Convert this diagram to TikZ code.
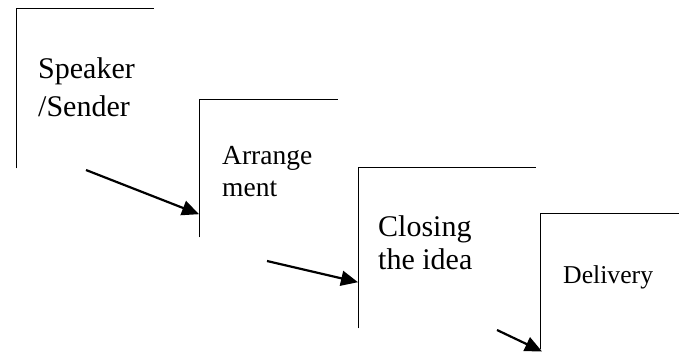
\documentclass[tikz,border=0pt]{standalone}
\usepackage{fontspec}
\setmainfont{Liberation Serif}
\usetikzlibrary{arrows.meta, positioning}

\begin{document}
\begin{tikzpicture}[x=1pt,y=-1pt]
\tikzstyle{every node}+=[inner sep=0pt]
\tikzstyle{stage}=[anchor=north west, minimum width=#1]
\tikzstyle{edge}=[black, line width=0.8pt]
\tikzstyle{flow}=[black, line width=2.2pt, -{Triangle[length=17pt,width=15pt]}]
\useasboundingbox (0,0) rectangle (686,354);
% open boxes
\node [stage=138pt, minimum height=160pt] (spk) at (16,8) {};
\node [stage=139pt, minimum height=138pt] (arr) at (199,99) {};
\node [stage=178pt, minimum height=161pt] (cls) at (358,167) {};
\node [stage=139pt, minimum height=136pt] (dlv) at (540,213) {};
\draw [edge] (spk.south west) -- (spk.north west) -- (spk.north east);
\draw [edge] (arr.south west) -- (arr.north west) -- (arr.north east);
\draw [edge] (cls.south west) -- (cls.north west) -- (cls.north east);
\draw [edge] (dlv.south west) -- (dlv.north west) -- (dlv.north east);
% labels
\node [right=22pt of spk.west, yshift=1pt, align=left, font=\fontsize{30}{38}\selectfont] (spkt) {Speaker\\/Sender};
\node [right=23pt of arr.west, yshift=-3pt, align=left, font=\fontsize{27.5}{32}\selectfont] (arrt) {Arrange\\ment};
\node [right=20pt of cls.west, yshift=5pt, align=left, font=\fontsize{30}{33}\selectfont] (clst) {Closing\\the idea};
\node [right=23pt of dlv.west, yshift=4pt, font=\fontsize{25.7}{30}\selectfont] (dlvt) {Delivery};
% arrows
\coordinate (s1) at (86,170);
\coordinate (s2) at (267,261);
\coordinate (s3) at (497,330);
\draw [flow] (s1) -- ([yshift=-46pt]arr.west);
\draw [flow] (s2) -- ([yshift=-34.5pt]cls.west);
\draw [flow] (s3) -- ([xshift=2pt,yshift=-2pt]dlv.south west);
\end{tikzpicture}
\end{document}
